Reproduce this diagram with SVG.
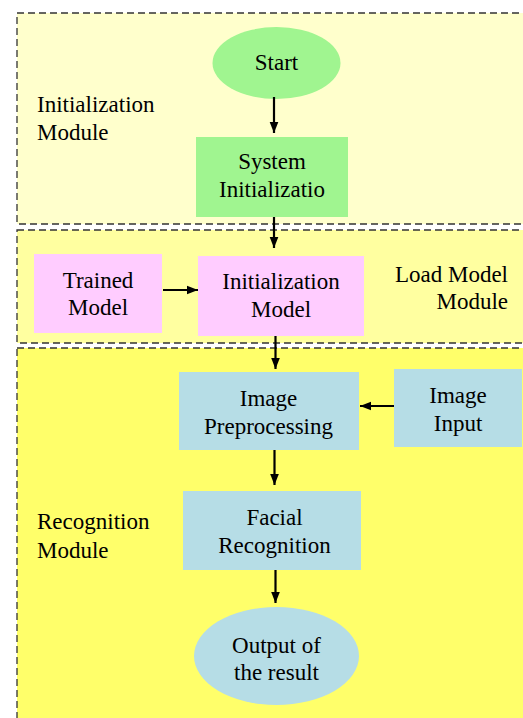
<svg xmlns="http://www.w3.org/2000/svg" width="523" height="718" viewBox="0 0 523 718" font-family="Liberation Serif, Times New Roman, serif" font-size="23">
<style>
.cl{stroke:#333;stroke-width:1.3;stroke-dasharray:7,4}
.c{text-anchor:middle}
.e{stroke:#000;stroke-width:2.2;fill:none}
</style>
<defs>
<marker id="ah" markerWidth="11" markerHeight="14" viewBox="0 0 14 11" refX="14" refY="5.5" orient="auto" markerUnits="userSpaceOnUse">
<path d="M0,0 L14,5.5 L0,11 z" fill="#000"/>
</marker>
</defs>
<rect width="523" height="718" fill="#fff"/>
<g id="cluster-init">
<rect class="cl" x="17" y="13" width="515" height="211" fill="#ffffcc"/>
<text x="37" y="112">Initialization</text>
<text x="37" y="140">Module</text>
</g>
<g id="cluster-load">
<rect class="cl" x="17" y="230" width="515" height="113" fill="#ffffa0"/>
<text x="508" y="282" text-anchor="end">Load Model</text>
<text x="508" y="309" text-anchor="end">Module</text>
</g>
<g id="cluster-recog">
<rect class="cl" x="17" y="348" width="515" height="380" fill="#ffff6a"/>
<text x="37" y="529">Recognition</text>
<text x="37" y="558">Module</text>
</g>
<g id="start">
<ellipse cx="276.5" cy="63" rx="64" ry="36" fill="#a0f590"/>
<text class="c" x="276.5" y="70">Start</text>
</g>
<g id="sysinit">
<rect x="196" y="137" width="152" height="80" fill="#a0f590"/>
<text class="c" x="272" y="169">System</text>
<text class="c" x="272" y="197">Initializatio</text>
</g>
<g id="trained">
<rect x="34" y="254" width="128" height="79" fill="#ffccff"/>
<text class="c" x="98" y="288">Trained</text>
<text class="c" x="98" y="315">Model</text>
</g>
<g id="initmodel">
<rect x="198" y="256" width="166" height="80" fill="#ffccff"/>
<text class="c" x="281" y="289">Initialization</text>
<text class="c" x="281" y="317">Model</text>
</g>
<g id="preproc">
<rect x="179" y="372" width="180" height="78" fill="#b6dde6"/>
<text class="c" x="268.5" y="406">Image</text>
<text class="c" x="268.5" y="434">Preprocessing</text>
</g>
<g id="imginput">
<rect x="394" y="369" width="128" height="78" fill="#b6dde6"/>
<text class="c" x="458" y="403">Image</text>
<text class="c" x="458" y="431">Input</text>
</g>
<g id="facial">
<rect x="183" y="491" width="178" height="79" fill="#b6dde6"/>
<text class="c" x="274.5" y="525">Facial</text>
<text class="c" x="274.5" y="553">Recognition</text>
</g>
<g id="output">
<ellipse cx="276.5" cy="656" rx="82.5" ry="49" fill="#b6dde6"/>
<text class="c" x="276.5" y="653">Output of</text>
<text class="c" x="276.5" y="680">the result</text>
</g>
<g id="connectors">
<line class="e" x1="274" y1="97" x2="274" y2="133" marker-end="url(#ah)"/>
<line class="e" x1="274" y1="217" x2="274" y2="248" marker-end="url(#ah)"/>
<line class="e" x1="163" y1="290" x2="198" y2="290" marker-end="url(#ah)"/>
<line class="e" x1="275.5" y1="336" x2="275.5" y2="369" marker-end="url(#ah)"/>
<line class="e" x1="394" y1="406" x2="360" y2="406" marker-end="url(#ah)"/>
<line class="e" x1="274.5" y1="450" x2="274.5" y2="485" marker-end="url(#ah)"/>
<line class="e" x1="275.5" y1="570" x2="275.5" y2="603" marker-end="url(#ah)"/>
</g>
</svg>
